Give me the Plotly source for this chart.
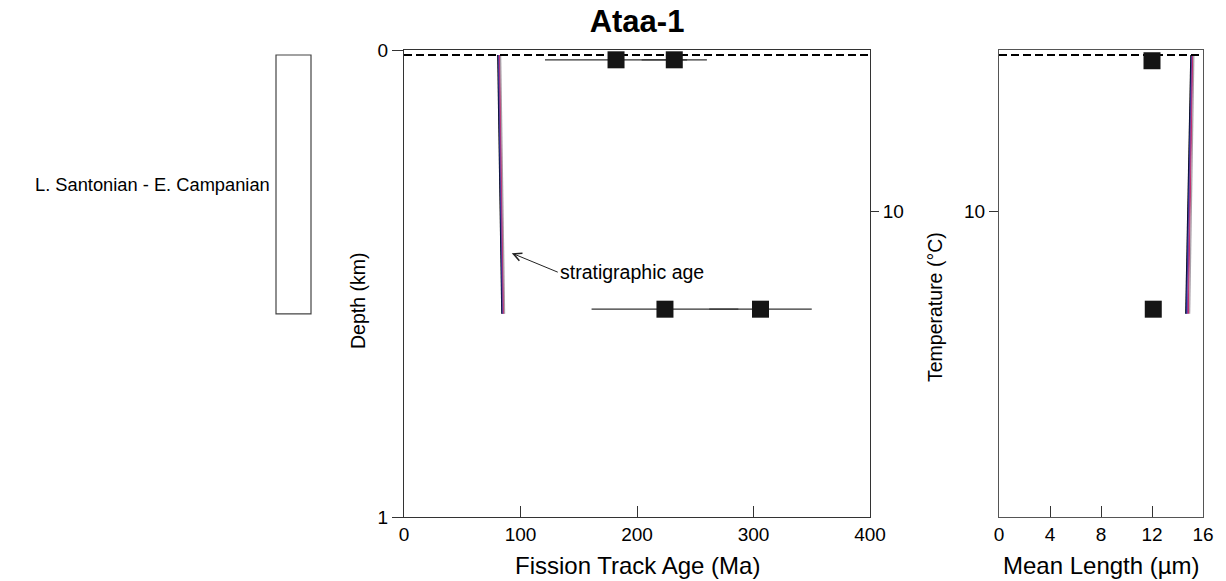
import plotly.graph_objects as go

# ---------------- data ----------------
surface_depth = 0.0107          # km, dashed line
strat_top, strat_bottom = 0.0107, 0.565
strat_label = "L. Santonian - E. Campanian"

sample_depths = [0.021, 0.555]            # km
ages_a = [182, 224]                       # Ma (first set of squares)
ages_a_err = [61, 63]
ages_b = [232, 306]                       # Ma (second set of squares)
ages_b_err = [28, 44]

length_depths = [0.023, 0.555]
mean_lengths = [12.0, 12.1]               # µm

model_depths = [0.0107, 0.565]
model_ages = {
    "black": [80.5, 84.0],
    "#1f2f8f": [81.0, 84.4],
    "#7a3fa0": [81.6, 85.0],
    "#c03070": [82.2, 85.6],
    "#a8a0a8": [82.9, 86.3],
}
model_lengths = {
    "black": [15.05, 14.65],
    "#1f2f8f": [15.1, 14.7],
    "#7a3fa0": [15.15, 14.78],
    "#c03070": [15.2, 14.85],
    "#a8a0a8": [15.28, 14.95],
}

age_ticks = [0, 100, 200, 300, 400]
len_ticks = [0, 4, 8, 12, 16]
depth_ticks = [0, 1]
temp_ticks = [10]
temp_range = [29, 0]

W, H = 1226, 581
FONT = "Arial, Liberation Sans, sans-serif"

def px_x(p):
    return p / W

def px_y(p):
    return 1 - p / H

main_dom_x = [px_x(404), px_x(870)]
right_dom_x = [px_x(999), px_x(1203)]
dom_y = [px_y(517), px_y(50)]

fig = go.Figure()

# model lines (main)
for c, ag in model_ages.items():
    fig.add_trace(go.Scatter(x=ag, y=model_depths, mode="lines",
                             line=dict(color=c, width=1.3),
                             xaxis="x", yaxis="y", showlegend=False))
# dashed surface line (main)
fig.add_trace(go.Scatter(x=[age_ticks[0], age_ticks[-1]], y=[surface_depth] * 2,
                         mode="lines", line=dict(color="black", width=2, dash="8px,4px"),
                         xaxis="x", yaxis="y", showlegend=False))
# sample ages with error bars
for ages, errs in [(ages_a, ages_a_err), (ages_b, ages_b_err)]:
    fig.add_trace(go.Scatter(x=ages, y=sample_depths, mode="markers",
                             marker=dict(symbol="square", size=17, color="#151515"),
                             error_x=dict(type="data", array=errs, color="#333333",
                                          thickness=1.3, width=0),
                             xaxis="x", yaxis="y", showlegend=False))

# dummy trace for main temperature axis
fig.add_trace(go.Scatter(x=[None], y=[None], xaxis="x", yaxis="y2", showlegend=False))

# right plot model lines
for c, ln in model_lengths.items():
    fig.add_trace(go.Scatter(x=ln, y=model_depths, mode="lines",
                             line=dict(color=c, width=1.3),
                             xaxis="x2", yaxis="y3", showlegend=False))
fig.add_trace(go.Scatter(x=[len_ticks[0], len_ticks[-1]], y=[surface_depth] * 2,
                         mode="lines", line=dict(color="black", width=2, dash="8px,4px"),
                         xaxis="x2", yaxis="y3", showlegend=False))
fig.add_trace(go.Scatter(x=mean_lengths, y=length_depths, mode="markers",
                         marker=dict(symbol="square", size=17, color="#151515"),
                         xaxis="x2", yaxis="y3", showlegend=False))
fig.add_trace(go.Scatter(x=[None], y=[None], xaxis="x2", yaxis="y4", showlegend=False))

TICKFONT = dict(family=FONT, size=19, color="black")
axis_common = dict(showgrid=False, zeroline=False, showline=True, linewidth=1.3,
                   tickfont=TICKFONT, automargin=False,
                   ticklen=11, tickwidth=1.2, tickcolor="#333")

fig.update_layout(
    template="none",
    width=W, height=H, autosize=False,
    margin=dict(l=0, r=0, t=0, b=0, pad=0),
    paper_bgcolor="white", plot_bgcolor="white",
    font=dict(family=FONT, color="black"),
    showlegend=False,
    title=dict(text="<b>Ataa-1</b>", x=0.5196, y=px_y(21), xanchor="center", yanchor="middle",
               font=dict(family=FONT, size=31, color="black"), automargin=False),
    xaxis=dict(domain=main_dom_x, range=[age_ticks[0], age_ticks[-1]], tickvals=age_ticks,
               ticks="inside", mirror=True, linecolor="#333", anchor="y", **axis_common),
    yaxis=dict(domain=dom_y, range=[1, 0], tickvals=depth_ticks, ticks="outside",
               mirror=True, linecolor="#333", anchor="x", **axis_common),
    yaxis2=dict(overlaying="y", side="right", anchor="x", range=temp_range, tickvals=temp_ticks,
                ticks="outside", showgrid=False, zeroline=False, showline=False,
                ticklen=8, tickwidth=1.2, tickcolor="#333", automargin=False,
                tickfont=TICKFONT),
    xaxis2=dict(domain=right_dom_x, range=[len_ticks[0], len_ticks[-1]], tickvals=len_ticks,
                ticks="inside", mirror=True, linecolor="#555", anchor="y3", **axis_common),
    yaxis3=dict(domain=dom_y, range=[1, 0], showticklabels=False, ticks="",
                showgrid=False, zeroline=False, showline=True, mirror=True, automargin=False,
                linecolor="#555", linewidth=1.3, anchor="x2"),
    yaxis4=dict(overlaying="y3", side="left", anchor="x2", range=temp_range, tickvals=temp_ticks,
                ticks="outside", showgrid=False, zeroline=False, showline=False,
                ticklen=9, tickwidth=1.2, tickcolor="#333", automargin=False,
                tickfont=TICKFONT),
)

# axis titles
XT = dict(family=FONT, size=24, color="black")
YT = dict(family=FONT, size=19.5, color="black")
fig.add_annotation(xref="paper", yref="paper", x=px_x(637), y=px_y(565),
                   text="Fission Track Age (Ma)", showarrow=False,
                   xanchor="center", yanchor="middle", font=XT)
fig.add_annotation(xref="paper", yref="paper", x=px_x(1101), y=px_y(565),
                   text="Mean Length (µm)", showarrow=False,
                   xanchor="center", yanchor="middle", font=XT)
fig.add_annotation(xref="paper", yref="paper", x=px_x(358), y=px_y(301),
                   text="Depth (km)", showarrow=False, textangle=-90,
                   xanchor="center", yanchor="middle", font=YT)
fig.add_annotation(xref="paper", yref="paper", x=px_x(935), y=px_y(307),
                   text="Temperature (°C)", showarrow=False, textangle=-90,
                   xanchor="center", yanchor="middle", font=YT)

# stratigraphic column
fig.add_shape(type="rect", xref="paper", yref="y", x0=px_x(276), x1=px_x(311),
              y0=strat_top, y1=strat_bottom, line=dict(color="#444", width=1.2),
              fillcolor="rgba(0,0,0,0)")
fig.add_annotation(xref="paper", yref="y", x=px_x(272), y=(strat_top + strat_bottom) / 2,
                   text=strat_label, showarrow=False, xanchor="right", yanchor="middle",
                   font=dict(family=FONT, size=18.3, color="black"))

# stratigraphic age annotation
fig.add_annotation(xref="x", yref="y", x=92.5, y=0.435, text="stratigraphic age",
                   showarrow=True, arrowhead=5, arrowsize=1.6, arrowwidth=1, arrowcolor="#222",
                   ax=46, ay=19, xanchor="left", yanchor="middle",
                   font=dict(family=FONT, size=19.5, color="black"))

fig.write_html("out.html")
